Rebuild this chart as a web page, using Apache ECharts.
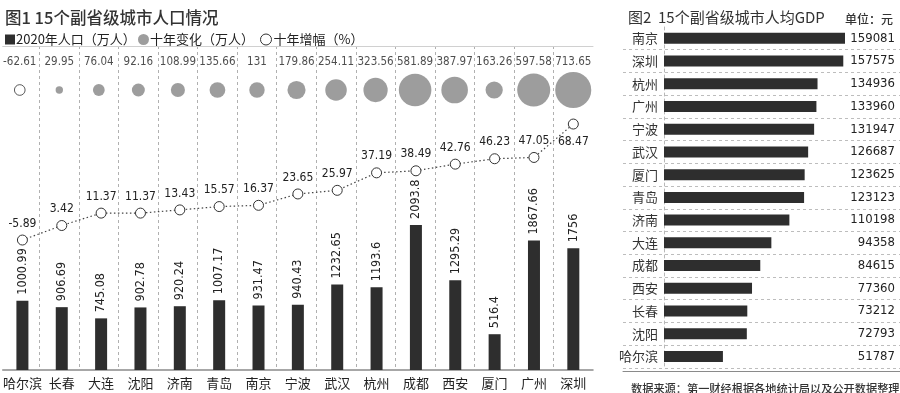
<!DOCTYPE html>
<html><head><meta charset="utf-8">
<script src="https://cdn.jsdelivr.net/npm/echarts@6/dist/echarts.min.js"></script>
<style>html,body{margin:0;padding:0;background:#fff}#c{width:900px;height:393px}</style>
</head><body><div id="c"></div>
<script>
// ---- data ----
var cities = ['哈尔滨','长春','大连','沈阳','济南','青岛','南京','宁波','武汉','杭州','成都','西安','厦门','广州','深圳'];
var pop2020 = [1000.99,906.69,745.08,902.78,920.24,1007.17,931.47,940.43,1232.65,1193.6,2093.8,1295.29,516.4,1867.66,1756];
var change10 = [-62.61,29.95,76.04,92.16,108.99,135.66,131,179.86,254.11,323.56,581.89,387.97,163.26,597.58,713.65];
var growth10 = [-5.89,3.42,11.37,11.37,13.43,15.57,16.37,23.65,25.97,37.19,38.49,42.76,46.23,47.05,68.47];
var gdpCities = ['南京','深圳','杭州','广州','宁波','武汉','厦门','青岛','济南','大连','成都','西安','长春','沈阳','哈尔滨'];
var gdpValues = [159081,157575,134936,133960,131947,126687,123625,123123,110198,94358,84615,77360,73212,72793,51787];

var CJK = "'Noto Sans CJK SC','Noto Sans',sans-serif";
var NUM = "'Liberation Sans Narrow','DejaVu Sans Condensed','Roboto Condensed','Liberation Sans',Roboto,sans-serif";
var DARK = '#2e2e2e';

var chart = echarts.init(document.getElementById('c'), null, {renderer:'canvas'});

var colW = 593 / cities.length;

var option = {
  backgroundColor:'#fff',
  animation:false,
  title:[
    {text:'图1 15个副省级城市人口情况', left:0, top:4, textStyle:{fontFamily:CJK, fontSize:16.5, fontWeight:500, color:'#333'}},
    {text:'图2  15个副省级城市人均GDP', left:623, top:5, textStyle:{fontFamily:CJK, fontSize:15, fontWeight:400, color:'#333'}},
    {text:'单位：元', right:2, top:8, textStyle:{fontFamily:CJK, fontSize:12, fontWeight:500, color:'#333'}},
    {text:'数据来源：第一财经根据各地统计局以及公开数据整理', left:626, top:378, textStyle:{fontFamily:CJK, fontSize:11.2, fontWeight:500, color:'#333'}}
  ],
  legend:[
    {data:[{name:'2020年人口（万人）', icon:'rect'}], left:0, top:28, itemWidth:10, itemHeight:10, itemGap:4,
      textStyle:{fontFamily:CJK, fontSize:13, color:'#222', padding:[0,0,0,-4]}},
    {data:[{name:'十年变化（万人）', icon:'circle'}], left:133, top:28, itemWidth:11, itemHeight:11,
      textStyle:{fontFamily:CJK, fontSize:13, color:'#222', padding:[0,0,0,-4]}},
    {data:[{name:'十年增幅（%）', icon:'circle'}], left:255, top:28, itemWidth:11, itemHeight:11,
      itemStyle:{color:'#fff', borderColor:'#333', borderWidth:1},
      textStyle:{fontFamily:CJK, fontSize:13, color:'#222', padding:[0,0,0,-3]}}
  ],
  grid:[
    {left:0, width:593, top:46, bottom:23},                      // bars + line
    {left:0, width:593, top:80, height:20},                      // bubble row
    {left:664, right:55, top:27, height:340.8},                  // gdp bars
    {left:623, right:0, top:27, height:340.8},                   // gdp separators
    {left:colW, width:colW*(cities.length-2), top:46, bottom:23} // column separators
  ],
  xAxis:[
    {gridIndex:0, type:'category', data:cities, axisTick:{show:false},
      axisLine:{onZero:false, lineStyle:{color:'#8a8a8a', width:1.5}},
      axisLabel:{fontFamily:CJK, fontSize:13, color:'#222', margin:7, interval:0},
      splitLine:{show:false}},
    {gridIndex:0, type:'category', data:cities, position:'top', axisTick:{show:false},
      axisLabel:{show:false}, axisLine:{onZero:false, lineStyle:{color:'#d0d0d0', width:1}}},
    {gridIndex:1, type:'category', data:cities, show:false},
    {gridIndex:2, type:'value', min:0, max:'dataMax', show:false},
    {gridIndex:3, type:'value', show:true, axisLabel:{show:false}, axisTick:{show:false}, splitLine:{show:false},
      offset:3, axisLine:{show:true, onZero:false, lineStyle:{color:'#8a8a8a', width:1}}},
    {gridIndex:4, type:'value', min:0, max:cities.length-2, interval:1, axisLine:{show:false},
      axisTick:{show:false}, axisLabel:{show:false},
      splitLine:{show:true, lineStyle:{color:'#b0b0b0', type:[3,3], width:1}}}
  ],
  yAxis:[
    {gridIndex:0, type:'value', min:0, max:4675, show:false},
    {gridIndex:0, type:'value', min:-89.2, max:118.5, show:false},
    {gridIndex:1, type:'value', min:-1, max:1, show:false},
    {gridIndex:2, type:'category', data:gdpCities, inverse:true, axisTick:{show:false},
      axisLine:{lineStyle:{color:'#b8b8b8', type:[3,3]}},
      axisLabel:{fontFamily:CJK, fontSize:13, color:'#333', margin:6, interval:0}},
    {gridIndex:2, type:'category', data:gdpCities, inverse:true, position:'right', axisTick:{show:false},
      axisLine:{show:false},
      axisLabel:{fontFamily:NUM, fontSize:13, color:'#222', margin:50, align:'right', interval:0,
        formatter:function(v, i){ return String(gdpValues[i]); }}},
    {gridIndex:3, type:'category', data:gdpCities, inverse:true, axisTick:{show:false},
      axisLine:{show:false}, axisLabel:{show:false, interval:0},
      splitLine:{show:true, interval:function(i){ return i>0; }, lineStyle:{color:'#bdbdbd', type:[3,3], width:1}}},
    {gridIndex:4, type:'value', show:false}
  ],
  series:[
    {name:'2020年人口（万人）', type:'bar', xAxisIndex:0, yAxisIndex:0, data:pop2020, barWidth:12,
      itemStyle:{color:DARK},
      label:{show:true, position:'top', rotate:90, align:'left', verticalAlign:'middle', distance:6,
        fontFamily:NUM, fontSize:12.5, color:'#222'}},
    {name:'十年增幅（%）', type:'line', xAxisIndex:0, yAxisIndex:1,
      data:growth10.map(function(v, i){
        return i === growth10.length-1 ? {value:v, label:{position:'bottom', distance:6}} : v;
      }),
      symbol:'circle', symbolSize:10, z:5, showAllSymbol:true,
      lineStyle:{color:'#444', width:1.2, type:[1.5,2.5]},
      itemStyle:{color:'#fff', borderColor:'#333', borderWidth:1},
      label:{show:true, position:'top', distance:5, fontFamily:NUM, fontSize:12, color:'#222'}},
    {name:'十年变化（万人）', type:'scatter', xAxisIndex:2, yAxisIndex:2,
      itemStyle:{color:'#858585'},
      data:change10.map(function(v, i){
        return {
          value:[i, 0, v],
          symbolSize:1.35*Math.sqrt(Math.abs(v)),
          itemStyle: v < 0 ? {color:'#fff', borderColor:'#333', borderWidth:1} : {color:'#858585'}
        };
      }),
      label:{show:true, position:'inside', offset:[0,-28], fontFamily:NUM, fontSize:11.5, color:'#222',
        formatter:function(p){ return String(p.value[2]); }}},
    {name:'人均GDP', type:'bar', xAxisIndex:3, yAxisIndex:3, data:gdpValues, barWidth:11,
      itemStyle:{color:DARK}}
  ]
};
chart.setOption(option);
</script>
</body></html>
